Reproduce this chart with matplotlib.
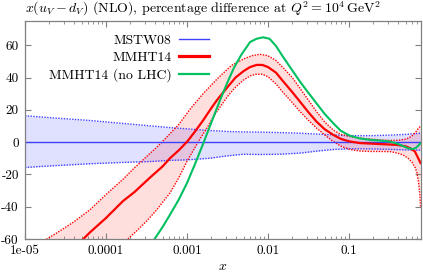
import matplotlib
matplotlib.use("Agg")
import matplotlib.pyplot as plt
import numpy as np
from matplotlib.ticker import FixedLocator, LogLocator, NullFormatter
from matplotlib.lines import Line2D

plt.rcParams['font.family'] = ['cmr10', 'DejaVu Serif']
plt.rcParams['mathtext.fontset'] = 'cm'
plt.rcParams['axes.unicode_minus'] = False
plt.rcParams['axes.formatter.use_mathtext'] = True

# ---- data (x positions read as log10(x)) ----
mstw_logx = [-5.0, -4.6, -4.2, -3.8, -3.44, -3.21, -3.0, -2.72, -2.5, -2.3, -2.1,
             -1.85, -1.6, -1.4, -1.2, -1.0, -0.75, -0.5, -0.3, -0.115]
mstw_up = [16.3, 14.8, 13.4, 11.6, 10.0, 9.0, 8.2, 7.2, 6.6, 6.3, 6.2,
           5.9, 5.5, 5.0, 4.5, 4.0, 4.0, 4.3, 4.8, 5.5]
mstw_lo = [-15.7, -14.5, -13.4, -12.6, -12.0, -11.3, -11.0, -10.0, -8.5, -7.5, -7.7,
           -7.5, -6.8, -5.6, -4.6, -4.1, -4.2, -4.5, -4.8, -5.0]
mstw_c = [0.0] * len(mstw_logx)

mmht_logx = [-4.4, -4.28, -4.2, -4.1, -4.0, -3.9, -3.79, -3.65, -3.457, -3.3, -3.21,
             -3.1, -2.994, -2.9, -2.8, -2.7, -2.63, -2.5, -2.4, -2.3, -2.22, -2.14,
             -2.07, -2.0, -1.9, -1.81, -1.7, -1.605, -1.5, -1.4, -1.3, -1.194, -1.1,
             -1.0, -0.864, -0.617, -0.41, -0.3, -0.247, -0.185, -0.144, -0.115]
mmht_c = [-66, -60, -56, -51.5, -47, -42, -36.5, -31, -22, -15, -10,
          -5, 0.5, 6.6, 13.5, 21, 26, 34, 40, 44, 46.5, 47.8,
          47.8, 46.5, 43, 37.5, 31, 25.1, 18.5, 12.7, 8, 4.5, 2,
          0.5, -0.6, -1.2, -1.7, -2.6, -3.7, -5.8, -10, -13]

mmht_up_logx = [-4.85, -4.73, -4.6, -4.4, -4.2, -4.0, -3.79, -3.65, -3.5, -3.38, -3.27,
                -3.1, -2.96, -2.8, -2.63, -2.45, -2.3, -2.2, -2.1, -2.0, -1.9, -1.81,
                -1.7, -1.605, -1.5, -1.4, -1.3, -1.194, -1.1, -0.99, -0.87, -0.74,
                -0.6, -0.49, -0.38, -0.29, -0.23, -0.185, -0.15, -0.115]
mmht_up = [-64, -60, -56, -49.5, -42, -32.5, -23, -16, -9, -3.5, 2,
           11, 20.5, 30, 39, 47.5, 51.5, 53.5, 54.4, 53.5, 50.5, 46,
           40, 33.4, 26, 18.9, 12.5, 7.5, 4.8, 3.5, 2.5, 1.9,
           1.3, 1.0, 1.2, 1.9, 3.5, 5.6, 8, 10]

mmht_lo_logx = [-3.85, -3.73, -3.6, -3.5, -3.374, -3.21, -3.1, -3.0, -2.92, -2.85, -2.75,
                -2.65, -2.56, -2.48, -2.4, -2.3, -2.22, -2.15, -2.07, -2.0, -1.9, -1.81,
                -1.7, -1.605, -1.5, -1.4, -1.3, -1.21, -1.1, -0.99, -0.87, -0.74, -0.6,
                -0.49, -0.4, -0.33, -0.27, -0.22, -0.18, -0.16, -0.14, -0.125, -0.115]
mmht_lo = [-66, -60, -54, -49, -42, -31.5, -22, -12, -5, 1, 9,
           17.5, 24, 29.5, 34, 38.5, 41, 42, 42, 40.5, 36, 30.5,
           24.5, 19, 13.5, 8.7, 4.5, 1, -2.5, -4.5, -5.5, -5.8, -5.8,
           -5.9, -6.8, -8, -10, -12.5, -16, -19, -25, -32, -40]

nolhc_logx = [-3.45, -3.4, -3.3, -3.21, -3.1, -3.0, -2.9, -2.8, -2.7, -2.59, -2.5,
              -2.42, -2.33, -2.22, -2.14, -2.06, -1.98, -1.9, -1.81, -1.7, -1.605,
              -1.5, -1.4, -1.3, -1.19, -1.1, -0.99, -0.87, -0.74, -0.6, -0.49, -0.4,
              -0.33, -0.27, -0.21, -0.17, -0.14, -0.115]
nolhc = [-66, -60, -52.5, -45, -35.5, -25.4, -13.5, -1, 12, 26.2, 37,
         46, 54, 62, 64, 64.9, 64, 59.5, 52.5, 44.5, 37.5,
         30.5, 24, 17.5, 11.5, 7, 4, 2.3, 1.4, 0.9, 0.3, -1,
         -2.5, -3.8, -4.3, -3.5, -2, -0.6]

series_names = ['MSTW08', 'MMHT14', 'MMHT14 (no LHC)']
xticks = [1e-5, 1e-4, 1e-3, 1e-2, 1e-1]
xticklabels = ['1e-05', '0.0001', '0.001', '0.01', '0.1']
yticks = [-60, -40, -20, 0, 20, 40, 60]


def xs(logx):
    return np.power(10.0, np.asarray(logx))


blue = '#4040ff'
red = '#ff0000'
green = '#00c060'

fig = plt.figure(figsize=(4.23, 2.73), dpi=100)
ax = fig.add_axes([25/423, 1-239/273, (420.7-25)/423, (239-21)/273])

# MSTW08 band
ax.fill_between(xs(mstw_logx), mstw_lo, mstw_up, color='#0000ff', alpha=0.12, lw=0)
ax.plot(xs(mstw_logx), mstw_up, color=blue, lw=1.0, ls=(0, (1, 1)))
ax.plot(xs(mstw_logx), mstw_lo, color=blue, lw=1.0, ls=(0, (1, 1)))

# MMHT14 band
poly_x = np.concatenate([xs(mmht_up_logx), xs(mmht_lo_logx)[::-1]])
poly_y = np.concatenate([mmht_up, mmht_lo[::-1]])
ax.fill(poly_x, poly_y, color='#ff0000', alpha=0.13, lw=0)
ax.plot(xs(mmht_up_logx), mmht_up, color=red, lw=1.0, ls=(0, (1, 1)))
ax.plot(xs(mmht_lo_logx), mmht_lo, color=red, lw=1.0, ls=(0, (1, 1)))

# central curves
ax.plot(xs(mstw_logx), mstw_c, color=blue, lw=1.0)
ax.plot(xs(mmht_logx), mmht_c, color=red, lw=1.6)
ax.plot(xs(nolhc_logx), nolhc, color=green, lw=1.5)

ax.set_xscale('log')
ax.set_xlim(1e-5, 0.77)
ax.set_ylim(-60, 75)
ax.xaxis.set_major_locator(FixedLocator(xticks))
ax.set_xticklabels(xticklabels)
ax.xaxis.set_minor_locator(LogLocator(base=10, subs=np.arange(2, 10)))
ax.xaxis.set_minor_formatter(NullFormatter())
ax.set_yticks(yticks)
ax.set_yticklabels([str(v) for v in yticks])

ax.tick_params(which='both', direction='in', top=True, right=True, labelsize=9.5,
               color='#808080')
ax.tick_params(axis='x', which='both', pad=4.5)
ax.tick_params(axis='y', which='both', pad=4.5)
ax.tick_params(which='major', length=4, width=0.8)
ax.tick_params(which='minor', length=2, width=0.6)
for s in ax.spines.values():
    s.set_color('#808080')
    s.set_linewidth(0.9)

ax.set_xlabel('$x$', fontsize=10, labelpad=2.5)
fig.text(25/423, 1-13/273,
         r'$x(u_V - d_V)$ (NLO), percentage difference at $Q^2 = 10^4\,\mathrm{GeV}^2$',
         ha='left', va='baseline', fontsize=10)

handles = [Line2D([], [], color=blue, lw=1.0),
           Line2D([], [], color=red, lw=2.3),
           Line2D([], [], color=green, lw=1.6)]
leg = ax.legend(handles, series_names, loc='upper right', bbox_to_anchor=(0.465, 0.94),
                frameon=False, markerfirst=False, fontsize=9.9, handlelength=2.2,
                handletextpad=0.5, labelspacing=0.33, borderaxespad=0, borderpad=0)

fig.savefig('out.png', dpi=100)
